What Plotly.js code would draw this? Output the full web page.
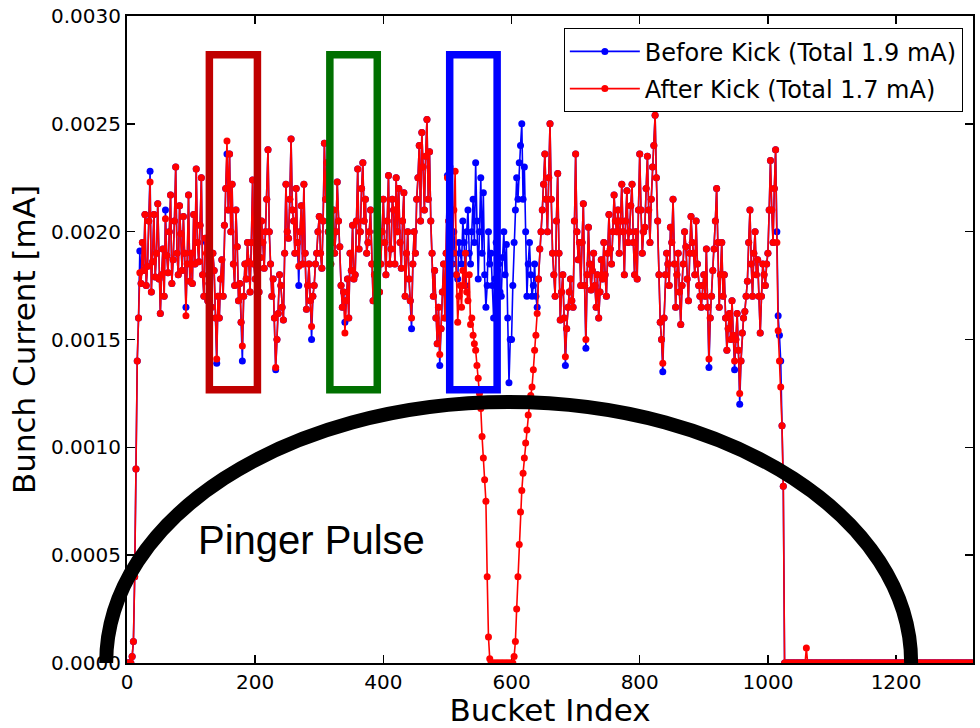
<!DOCTYPE html>
<html>
<head>
<meta charset="utf-8">
<script src="https://cdn.plot.ly/plotly-3.0.1.min.js"></script>
<style>html,body{margin:0;padding:0;background:#fff;}#chart{width:980px;height:728px;}</style>
</head>
<body>
<div id="chart"></div>
<script>
// Readings are taken every 2 buckets: the "A" arrays hold buckets 0,4,8,...,1320,
// the "B" arrays hold the buckets in between: 2,6,10,...,1318.
const bucketStep = 4;

// Bunch current before kick [mA], buckets 0,4,8,...
const beforeKickA = [
  0, 0, 0.00003, 0.0004, 0.0014, 0.00191, 0.00195, 0.00208, 0.00184, 0.00228, 0.00186, 0.00179, 0.00213, 0.00162, 0.00192, 0.00210, 0.00181, 0.00217, 0.00187, 0.00230, 0.00180, 0.00199, 0.00207, 0.00165, 0.00217,
  0.00190, 0.00208, 0.00229, 0.00186, 0.00225, 0.00170, 0.00195, 0.00176, 0.00165, 0.00182, 0.00139, 0.00160, 0.00187, 0.00203, 0.00236, 0.00236, 0.00222, 0.00175, 0.00193, 0.00176, 0.00140, 0.00185, 0.00195, 0.00172, 0.00224,
  0.00178, 0.00200, 0.00188, 0.00195, 0.00200, 0.00238, 0.00185, 0.00178, 0.00136, 0.00162, 0.00175, 0.00159, 0.00222, 0.00197, 0.00243, 0.00205, 0.00220, 0.00175, 0.00212, 0.00222, 0.00164, 0.00185, 0.00150, 0.00175, 0.00190,
  0.00207, 0.00183, 0.00241, 0.00232, 0.00205, 0.00195, 0.00190, 0.00223, 0.00193, 0.00165, 0.00158, 0.00178, 0.00190, 0.00203, 0.00180, 0.00229, 0.00200, 0.00232, 0.00215, 0.00195, 0.00210, 0.00168, 0.00175, 0.00190, 0.00185,
  0.00215, 0.00180, 0.00226, 0.00192, 0.00210, 0.00225, 0.00220, 0.00183, 0.00218, 0.00190, 0.00178, 0.00155, 0.00200, 0.00215, 0.00240, 0.00246, 0.00210, 0.00252, 0.00237, 0.00190, 0.00182, 0.00148, 0.00138, 0.00172, 0.00160,
  0.00226, 0.00230, 0.00185, 0.00190, 0.00178, 0.00190, 0.00205, 0.00175, 0.00210, 0.00185, 0.00215, 0.00232, 0.00178, 0.00225, 0.00218, 0.00165, 0.00200, 0.00190, 0.00160, 0.00195, 0.00185, 0.00170, 0.00200, 0.00194, 0.00130,
  0.00150, 0.00195, 0.00225, 0.00232, 0.00250, 0.00230, 0.00170, 0.00195, 0.00170, 0.00185, 0.00165, 0.00192, 0.00210, 0.00236, 0.00200, 0.00250, 0.00190, 0.00170, 0.00227, 0.00159, 0.00180, 0.00138, 0.00165, 0.00178, 0.00165,
  0.00236, 0.00187, 0.00175, 0.00213, 0.00146, 0.00202, 0.00173, 0.00190, 0.00165, 0.00160, 0.00187, 0.00195, 0.00170, 0.00208, 0.00185, 0.00217, 0.00200, 0.00190, 0.00222, 0.00180, 0.00219, 0.00200, 0.00222, 0.00180, 0.00178,
  0.00236, 0.00190, 0.00202, 0.00235, 0.00195, 0.00230, 0.00254, 0.00205, 0.00158, 0.00135, 0.00180, 0.00185, 0.00202, 0.00215, 0.00165, 0.00190, 0.00157, 0.00185, 0.00193, 0.00168, 0.00207, 0.00190, 0.00205, 0.00175, 0.00165,
  0.00180, 0.00192, 0.00137, 0.00170, 0.00192, 0.00220, 0.00165, 0.00195, 0.00180, 0.00145, 0.00162, 0.00168, 0.00136, 0.00162, 0.00120, 0.00153, 0.00163, 0.00177, 0.00210, 0.00170, 0.00200, 0.00187, 0.00153, 0.00185, 0.00175,
  0.00190, 0.00233, 0.00195, 0.00238, 0.00161, 0.00140, 0.00082, 0, 0, 0, 0, 0, 0, 0, 0, 0, 0, 0, 0, 0, 0, 0, 0, 0, 0,
  0, 0, 0, 0, 0, 0, 0, 0, 0, 0, 0, 0, 0, 0, 0, 0, 0, 0, 0, 0, 0, 0, 0, 0, 0,
  0, 0, 0, 0, 0, 0, 0, 0, 0, 0, 0, 0, 0, 0, 0, 0, 0, 0, 0, 0, 0, 0, 0, 0, 0,
  0, 0, 0, 0, 0, 0
];
// Bunch current before kick [mA], buckets 2,6,10,...
const beforeKickB = [
  0, 0, 0.0001, 0.0009, 0.0016, 0.00176, 0.00182, 0.00175, 0.00205, 0.00172, 0.00208, 0.00190, 0.00178, 0.00180, 0.00170, 0.00189, 0.00200, 0.00176, 0.00205, 0.00190, 0.00212, 0.00182, 0.00190, 0.00185, 0.00177,
  0.00176, 0.00185, 0.00195, 0.00203, 0.00180, 0.00197, 0.00168, 0.00185, 0.00190, 0.00160, 0.00170, 0.00178, 0.00170, 0.00220, 0.00210, 0.00200, 0.00185, 0.00210, 0.00168, 0.00158, 0.00170, 0.00178, 0.00186, 0.00195, 0.00185,
  0.00192, 0.00172, 0.00205, 0.00183, 0.00215, 0.00200, 0.00170, 0.00160, 0.00150, 0.00180, 0.00165, 0.00190, 0.00200, 0.00215, 0.00210, 0.00190, 0.00195, 0.00200, 0.00185, 0.00190, 0.00175, 0.00168, 0.00170, 0.00185, 0.00200,
  0.00190, 0.00205, 0.00215, 0.00200, 0.00185, 0.00210, 0.00200, 0.00205, 0.00175, 0.00172, 0.00168, 0.00160, 0.00182, 0.00178, 0.00205, 0.00192, 0.00220, 0.00205, 0.00190, 0.00200, 0.00185, 0.00180, 0.00200, 0.00172, 0.00200,
  0.00195, 0.00205, 0.00185, 0.00215, 0.00185, 0.00200, 0.00195, 0.00205, 0.00170, 0.00200, 0.00168, 0.00185, 0.00190, 0.00225, 0.00205, 0.00230, 0.00235, 0.00215, 0.00205, 0.00170, 0.00160, 0.00165, 0.00155, 0.00185, 0.00190,
  0.00205, 0.00195, 0.00200, 0.00180, 0.00195, 0.00185, 0.00195, 0.00200, 0.00190, 0.00200, 0.00195, 0.00205, 0.00200, 0.00190, 0.00180, 0.00175, 0.00185, 0.00175, 0.00178, 0.00182, 0.00172, 0.00188, 0.00180, 0.00160, 0.00150,
  0.00175, 0.00210, 0.00215, 0.00240, 0.00215, 0.00200, 0.00185, 0.00180, 0.00175, 0.00170, 0.00178, 0.00200, 0.00222, 0.00215, 0.00225, 0.00215, 0.00180, 0.00205, 0.00190, 0.00172, 0.00160, 0.00155, 0.00172, 0.00168, 0.00205,
  0.00200, 0.00195, 0.00195, 0.00175, 0.00180, 0.00185, 0.00182, 0.00175, 0.00180, 0.00172, 0.00178, 0.00180, 0.00190, 0.00192, 0.00200, 0.00205, 0.00210, 0.00205, 0.00200, 0.00205, 0.00195, 0.00212, 0.00195, 0.00200, 0.00210,
  0.00210, 0.00200, 0.00220, 0.00210, 0.00215, 0.00240, 0.00225, 0.00180, 0.00150, 0.00160, 0.00190, 0.00175, 0.00195, 0.00185, 0.00180, 0.00172, 0.00175, 0.00200, 0.00178, 0.00190, 0.00195, 0.00180, 0.00185, 0.00170, 0.00175,
  0.00170, 0.00165, 0.00160, 0.00182, 0.00205, 0.00195, 0.00180, 0.00170, 0.00160, 0.00155, 0.00150, 0.00152, 0.00150, 0.00145, 0.00140, 0.00160, 0.00170, 0.00195, 0.00185, 0.00190, 0.00180, 0.00170, 0.00170, 0.00180, 0.00185,
  0.00210, 0.00210, 0.00220, 0.00200, 0.00152, 0.00110, 0, 0, 0, 0, 0, 0, 0, 0, 0, 0, 0, 0, 0, 0, 0, 0, 0, 0, 0,
  0, 0, 0, 0, 0, 0, 0, 0, 0, 0, 0, 0, 0, 0, 0, 0, 0, 0, 0, 0, 0, 0, 0, 0, 0,
  0, 0, 0, 0, 0, 0, 0, 0, 0, 0, 0, 0, 0, 0, 0, 0, 0, 0, 0, 0, 0, 0, 0, 0, 0,
  0, 0, 0, 0, 0
];

// Bunch current after kick [mA], buckets 0,4,8,...
const afterKickA = [
  0, 0, 0.00003, 0.0004, 0.0014, 0.00181, 0.00195, 0.00208, 0.00184, 0.00223, 0.00186, 0.00179, 0.00213, 0.00162, 0.00192, 0.00206, 0.00181, 0.00217, 0.00187, 0.00230, 0.00180, 0.00199, 0.00207, 0.00161, 0.00217,
  0.00190, 0.00208, 0.00229, 0.00186, 0.00225, 0.00170, 0.00190, 0.00176, 0.00165, 0.00182, 0.00141, 0.00160, 0.00187, 0.00203, 0.00242, 0.00236, 0.00222, 0.00175, 0.00193, 0.00176, 0.00147, 0.00185, 0.00195, 0.00172, 0.00224,
  0.00178, 0.00200, 0.00188, 0.00195, 0.00200, 0.00238, 0.00185, 0.00178, 0.00137, 0.00162, 0.00175, 0.00159, 0.00222, 0.00197, 0.00243, 0.00205, 0.00220, 0.00184, 0.00212, 0.00222, 0.00164, 0.00185, 0.00156, 0.00175, 0.00190,
  0.00207, 0.00183, 0.00241, 0.00232, 0.00205, 0.00195, 0.00190, 0.00223, 0.00193, 0.00165, 0.00153, 0.00178, 0.00190, 0.00203, 0.00180, 0.00229, 0.00200, 0.00232, 0.00215, 0.00195, 0.00210, 0.00168, 0.00175, 0.00190, 0.00185,
  0.00215, 0.00180, 0.00226, 0.00192, 0.00210, 0.00225, 0.00220, 0.00183, 0.00218, 0.00190, 0.00178, 0.00160, 0.00200, 0.00215, 0.00240, 0.00246, 0.00210, 0.00252, 0.00237, 0.00190, 0.00182, 0.00148, 0.00143, 0.00172, 0.00160,
  0.00225, 0.00200, 0.00190, 0.00228, 0.00158, 0.00175, 0.00182, 0.00190, 0.00168, 0.00157, 0.00152, 0.00145, 0.00132, 0.00118, 0.00095, 0.00075, 0.00012, 0, 0, 0, 0, 0, 0, 0, 0,
  0, 0.00003, 0.00025, 0.00055, 0.0008, 0.00095, 0.00108, 0.0012, 0.00128, 0.00145, 0.00162, 0.00192, 0.00210, 0.00236, 0.00200, 0.00250, 0.00190, 0.00170, 0.00227, 0.00159, 0.00180, 0.00142, 0.00165, 0.00178, 0.00165,
  0.00236, 0.00187, 0.00175, 0.00213, 0.00150, 0.00202, 0.00173, 0.00190, 0.00165, 0.00160, 0.00187, 0.00195, 0.00170, 0.00208, 0.00185, 0.00217, 0.00200, 0.00190, 0.00222, 0.00180, 0.00219, 0.00200, 0.00222, 0.00180, 0.00178,
  0.00236, 0.00190, 0.00202, 0.00235, 0.00195, 0.00230, 0.00254, 0.00205, 0.00158, 0.00139, 0.00180, 0.00185, 0.00202, 0.00215, 0.00165, 0.00190, 0.00157, 0.00185, 0.00193, 0.00168, 0.00207, 0.00190, 0.00205, 0.00175, 0.00165,
  0.00180, 0.00192, 0.00141, 0.00170, 0.00192, 0.00220, 0.00165, 0.00195, 0.00180, 0.00145, 0.00162, 0.00168, 0.00140, 0.00162, 0.00125, 0.00153, 0.00163, 0.00177, 0.00210, 0.00170, 0.00200, 0.00187, 0.00153, 0.00185, 0.00175,
  0.00190, 0.00233, 0.00195, 0.00238, 0.00154, 0.00128, 0.00082, 0, 0, 0, 0, 0, 0, 0, 0, 0.00007, 0, 0, 0, 0, 0, 0, 0, 0, 0,
  0, 0, 0, 0, 0, 0, 0, 0, 0, 0, 0, 0, 0, 0, 0, 0, 0, 0, 0, 0, 0, 0, 0, 0, 0,
  0, 0, 0, 0, 0, 0, 0, 0, 0, 0, 0, 0, 0, 0, 0, 0, 0, 0, 0, 0, 0, 0, 0, 0, 0,
  0, 0, 0, 0, 0, 0
];
// Bunch current after kick [mA], buckets 2,6,10,...
const afterKickB = [
  0, 0, 0.0001, 0.0009, 0.0016, 0.00176, 0.00182, 0.00175, 0.00205, 0.00172, 0.00208, 0.00190, 0.00178, 0.00180, 0.00170, 0.00189, 0.00200, 0.00176, 0.00205, 0.00190, 0.00212, 0.00182, 0.00190, 0.00185, 0.00177,
  0.00176, 0.00185, 0.00195, 0.00203, 0.00180, 0.00197, 0.00168, 0.00185, 0.00190, 0.00160, 0.00170, 0.00178, 0.00170, 0.00220, 0.00210, 0.00200, 0.00185, 0.00210, 0.00168, 0.00158, 0.00170, 0.00178, 0.00186, 0.00195, 0.00185,
  0.00192, 0.00172, 0.00205, 0.00183, 0.00215, 0.00200, 0.00170, 0.00160, 0.00150, 0.00180, 0.00165, 0.00190, 0.00200, 0.00215, 0.00210, 0.00190, 0.00195, 0.00200, 0.00185, 0.00190, 0.00175, 0.00168, 0.00170, 0.00185, 0.00200,
  0.00190, 0.00205, 0.00215, 0.00200, 0.00185, 0.00210, 0.00200, 0.00205, 0.00175, 0.00172, 0.00168, 0.00160, 0.00182, 0.00178, 0.00205, 0.00192, 0.00220, 0.00205, 0.00190, 0.00200, 0.00185, 0.00180, 0.00200, 0.00172, 0.00200,
  0.00195, 0.00205, 0.00185, 0.00215, 0.00185, 0.00200, 0.00195, 0.00205, 0.00170, 0.00200, 0.00168, 0.00185, 0.00190, 0.00225, 0.00205, 0.00230, 0.00235, 0.00215, 0.00205, 0.00170, 0.00160, 0.00165, 0.00155, 0.00185, 0.00190,
  0.00205, 0.00185, 0.00210, 0.00180, 0.00170, 0.00165, 0.00175, 0.00172, 0.00180, 0.00160, 0.00148, 0.00138, 0.00125, 0.00105, 0.00085, 0.00040, 0.00002, 0, 0, 0, 0, 0, 0, 0, 0,
  0, 0.0001, 0.0004, 0.0007, 0.00088, 0.00102, 0.00115, 0.00124, 0.00136, 0.00152, 0.00178, 0.00200, 0.00222, 0.00215, 0.00225, 0.00215, 0.00180, 0.00205, 0.00190, 0.00172, 0.00160, 0.00155, 0.00172, 0.00168, 0.00205,
  0.00200, 0.00195, 0.00195, 0.00175, 0.00180, 0.00185, 0.00182, 0.00175, 0.00180, 0.00172, 0.00178, 0.00180, 0.00190, 0.00192, 0.00200, 0.00205, 0.00210, 0.00205, 0.00200, 0.00205, 0.00195, 0.00212, 0.00195, 0.00200, 0.00210,
  0.00210, 0.00200, 0.00220, 0.00210, 0.00215, 0.00240, 0.00225, 0.00180, 0.00150, 0.00160, 0.00190, 0.00175, 0.00195, 0.00185, 0.00180, 0.00172, 0.00175, 0.00200, 0.00178, 0.00190, 0.00195, 0.00180, 0.00185, 0.00170, 0.00175,
  0.00170, 0.00165, 0.00160, 0.00182, 0.00205, 0.00195, 0.00180, 0.00170, 0.00160, 0.00155, 0.00150, 0.00152, 0.00150, 0.00145, 0.00140, 0.00160, 0.00170, 0.00195, 0.00185, 0.00190, 0.00180, 0.00170, 0.00170, 0.00180, 0.00185,
  0.00210, 0.00210, 0.00220, 0.00195, 0.00140, 0.00110, 0, 0, 0, 0, 0, 0, 0, 0, 0, 0, 0, 0, 0, 0, 0, 0, 0, 0, 0,
  0, 0, 0, 0, 0, 0, 0, 0, 0, 0, 0, 0, 0, 0, 0, 0, 0, 0, 0, 0, 0, 0, 0, 0, 0,
  0, 0, 0, 0, 0, 0, 0, 0, 0, 0, 0, 0, 0, 0, 0, 0, 0, 0, 0, 0, 0, 0, 0, 0, 0,
  0, 0, 0, 0, 0
];

const seriesNames = ['Before Kick (Total 1.9 mA)', 'After Kick (Total 1.7 mA)'];
const seriesColors = ['#0000ff', '#ff0000'];
const xTitle = 'Bucket Index';
const yTitle = 'Bunch Current [mA]';
const pulseLabel = 'Pinger Pulse';

// merge the two reading sets into one bucket-ordered series
function merge(a, b) {
  const xs = [], ys = [];
  a.forEach((v, i) => {
    xs.push(i * bucketStep); ys.push(v);
    if (i < b.length) { xs.push(i * bucketStep + bucketStep / 2); ys.push(b[i]); }
  });
  return {xs, ys};
}

const xRange = [0, 1320];
const yRange = [0, 0.003];

const traces = [[beforeKickA, beforeKickB], [afterKickA, afterKickB]].map((pair, k) => {
  const m = merge(pair[0], pair[1]);
  return {
    x: m.xs, y: m.ys, type: 'scatter', mode: 'lines+markers',
    name: seriesNames[k], legendgroup: 'g' + k,
    line: {color: seriesColors[k], width: 1.6},
    marker: {color: seriesColors[k], size: 7},
    hoverinfo: 'skip'
  };
});

// highlight boxes (data coordinates)
const boxes = [
  {x0: 128.5, x1: 203.5, color: '#c00000'},
  {x0: 316.5, x1: 390.5, color: '#007000'},
  {x0: 503.5, x1: 577.5, color: '#0000ff'}
];
const boxY = [0.001267, 0.00282];

const shapes = boxes.map(b => ({
  type: 'rect', xref: 'x', yref: 'y', x0: b.x0, x1: b.x1, y0: boxY[0], y1: boxY[1],
  line: {color: b.color, width: 7.5}, fillcolor: 'rgba(0,0,0,0)', layer: 'above'
}));

// Pinger pulse arc (half ellipse), built in paper coords so it is not clipped
const arcCenter = 595.5, arcHalfWidth = 628, arcHeight = 0.00121;
const px = v => (v - xRange[0]) / (xRange[1] - xRange[0]);
const py = v => (v - yRange[0]) / (yRange[1] - yRange[0]);
const kap = 0.5523;
const L = px(arcCenter - arcHalfWidth), R = px(arcCenter + arcHalfWidth), C = px(arcCenter);
const ax = px(arcCenter + arcHalfWidth) - C;
const T = py(arcHeight), B = py(0);
const arcPath = `M${L},${B} C${L},${B + kap * (T - B)} ${C - kap * ax},${T} ${C},${T} C${C + kap * ax},${T} ${R},${B + kap * (T - B)} ${R},${B}`;
shapes.push({type: 'path', xref: 'paper', yref: 'paper', path: arcPath,
  line: {color: 'black', width: 14}, layer: 'above'});

const axisCommon = {
  showgrid: false, zeroline: false, showline: true, linecolor: 'black', linewidth: 2,
  mirror: 'ticks', ticks: 'inside', ticklen: 8, tickwidth: 1.5, tickcolor: 'black',
  tickfont: {size: 20, color: 'black'}, layer: 'below traces'
};

const layout = {
  width: 980, height: 728,
  margin: {l: 127, r: 7, t: 16, b: 65},
  paper_bgcolor: 'white', plot_bgcolor: 'white',
  font: {family: 'DejaVu Sans', color: 'black', size: 20},
  xaxis: Object.assign({}, axisCommon, {
    range: xRange, dtick: 200, tick0: 0,
    title: {text: xTitle, font: {size: 31}, standoff: 7}
  }),
  yaxis: Object.assign({}, axisCommon, {
    range: yRange, dtick: 0.0005, tick0: 0, tickformat: '.4f',
    title: {text: yTitle, font: {size: 31}, standoff: 6}
  }),
  showlegend: true,
  legend: {
    x: 0.988, y: 0.981, xanchor: 'right', yanchor: 'top',
    bgcolor: 'white', bordercolor: 'black', borderwidth: 1,
    font: {size: 24, color: 'black'}, traceorder: 'grouped', tracegroupgap: 3,
    itemwidth: 70
  },
  shapes: shapes,
  annotations: [{
    xref: 'paper', yref: 'paper', x: 0.2175, y: 0.19, xanchor: 'center', yanchor: 'middle',
    text: pulseLabel, showarrow: false,
    font: {family: 'Liberation Sans, Arial', size: 40, color: 'black'}
  }]
};

Plotly.newPlot('chart', traces, layout, {displayModeBar: false, staticPlot: true});
</script>
</body>
</html>
